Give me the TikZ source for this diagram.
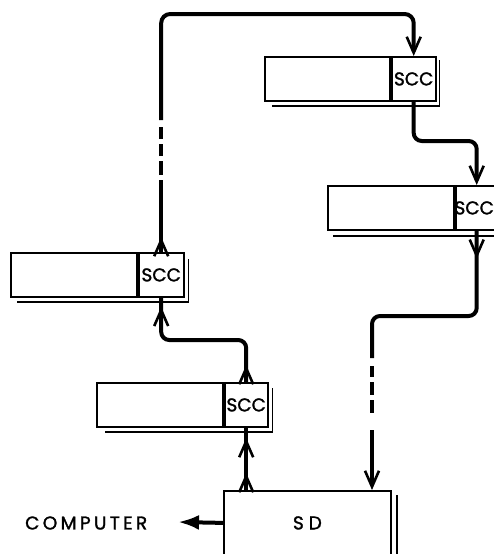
\documentclass[tikz,border=0pt]{standalone}
\usepackage{fontspec}
\setmainfont{Poppins}[FakeBold=1.5]
\usetikzlibrary{arrows.meta,decorations.markings,calc}
\tikzset{
  sccbarb/.tip={Straight Barb[length=16pt,width=14pt,line width=2.6pt]},
  conn/.style={line width=4pt, line join=round},
  midarrow/.style={postaction={decorate, decoration={markings, mark=at position #1 with {\arrow{sccbarb}}}}},
  part/.style={draw, line width=1.8pt, minimum height=44pt, inner sep=0pt, anchor=north west, font=\fontsize{18.5}{22}\selectfont},
  shadowline/.style={line width=1.5pt},
}
\begin{document}
\begin{tikzpicture}[x=1pt,y=-1pt]
\useasboundingbox (0,0) rectangle (493,554);
% box 4 (top right)
\node[part, minimum width=125pt] (m4) at (264,56) {};
\node[part, minimum width=44pt] (s4) at (m4.north east) {SCC};
\draw[shadowline] ($(s4.north east)+(3,4)$) -- ($(s4.south east)+(3,4)$) -- ($(m4.south west)+(8,4)$);
% box 3 (middle right)
\node[part, minimum width=126pt] (m3) at (327,185) {};
\node[part, minimum width=42pt] (s3) at (m3.north east) {};
\node[inner sep=0pt, font=\fontsize{18.5}{22}\selectfont] (t3) at ($(s3.center)+(-2.5,0)$) {SCC};
\draw[shadowline] ($(s3.north east)+(4,5)$) -- ($(s3.south east)+(4,5)$) -- ($(m3.south west)+(6,5)$);
% box 1 (left)
\node[part, minimum width=126pt] (m1) at (10,252) {};
\node[part, minimum width=45pt] (s1) at (m1.north east) {SCC};
\draw[shadowline] ($(s1.north east)+(4,7)$) -- ($(s1.south east)+(4,4)$) -- ($(m1.south west)+(7,4)$);
% box 2
\node[part, minimum width=126pt] (m2) at (96,382) {};
\node[part, minimum width=43pt] (s2) at (m2.north east) {SCC};
\draw[shadowline] ($(s2.north east)+(4,6)$) -- ($(s2.south east)+(4,4)$) -- ($(m2.south west)+(9,4)$);
% SD
\node[part, minimum width=167pt, minimum height=64pt] (sd) at (223,490) {S D};
\draw[shadowline] ($(sd.north east)+(5,5)$) -- ($(sd.south east)+(5,5)$) -- ($(sd.south west)+(8,5)$);
% computer
\node[inner sep=0pt, anchor=west, font=\fontsize{18.5}{22}\selectfont\addfontfeature{LetterSpace=18}] (comp) at (25,523) {COMPUTER};
\coordinate (ct) at (178,522);
\draw[conn, -{Latex[length=21pt,width=15pt]}] (sd.west) -- (ct);
% connectors
\coordinate (c1) at (s2.south |- sd.north);
\draw[conn, midarrow=17pt, midarrow=52pt] (c1) -- (s2.south);
\coordinate (k2) at (s1.south |- 0,340);
\draw[conn, rounded corners=8pt, midarrow=17pt, midarrow=-9pt] (s2.north) |- (k2) -- (s1.south);
\coordinate (c3a) at (s1.north |- 0,180);
\coordinate (c3b) at (s1.north |- 0,120);
\coordinate (k3) at (s4.north |- 0,14);
\draw[conn, midarrow=15pt] (s1.north) -- (c3a);
\draw[conn, dash pattern=on 14pt off 5pt on 12pt off 5pt on 12pt off 35pt, dash phase=78pt] (c3a) -- (c3b);
\draw[conn, rounded corners=9pt, -{sccbarb}] (c3b) |- (k3) -- (s4.north);
\coordinate (k4) at (s3.north |- 0,141);
\draw[conn, rounded corners=8pt, -{sccbarb}] (s4.south) |- (k4) -- (s3.north);
\coordinate (k5) at (372,316);
\coordinate (c5a) at (372,358);
\coordinate (c5b) at (372,430);
\draw[conn, rounded corners=8pt, midarrow=28pt] (s3.south) |- (k5) -- (c5a);
\draw[conn, dash pattern=on 11pt off 5pt on 13pt off 5pt on 13pt off 45pt, dash phase=84pt] (c5a) -- (c5b);
\draw[conn, -{sccbarb}] (c5b) -- (c5b |- sd.north);
\end{tikzpicture}
\end{document}
